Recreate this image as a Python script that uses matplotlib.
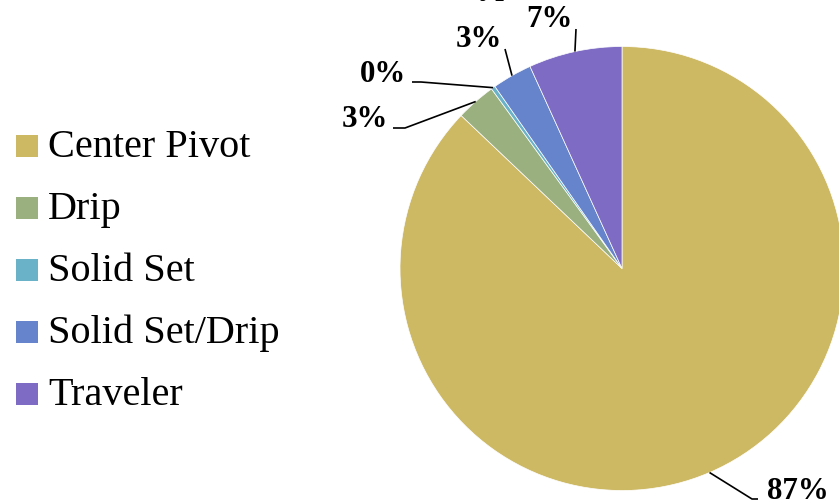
import matplotlib
matplotlib.use("Agg")
import matplotlib.pyplot as plt
from matplotlib.patches import Rectangle
import numpy as np

# Share of irrigated area by system type (percent)
categories = ["Center Pivot", "Drip", "Solid Set", "Solid Set/Drip", "Traveler"]
shares = [87.1, 2.9, 0.3, 2.9, 6.8]
colors = ["#CDB864", "#9BB07F", "#6AB2C8", "#6584CB", "#7E6BC4"]

plt.rcParams["font.family"] = ["Liberation Serif", "DejaVu Serif"]

W, H = 839, 500
fig = plt.figure(figsize=(W / 100, H / 100), dpi=100)
ax = fig.add_axes([0, 0, 1, 1])

# pie of radius 1 centred at the origin; 222 px per data unit
cx_px, cy_px, ppu = 622.0, 268.5, 222.0
wedges, _ = ax.pie(shares, colors=colors, startangle=90, counterclock=False,
                   radius=1, center=(0, 0),
                   wedgeprops=dict(edgecolor="white", linewidth=0.5))
ax.set_aspect("auto")
ax.set_xlim(-cx_px / ppu, (W - cx_px) / ppu)
ax.set_ylim((cy_px - H) / ppu, cy_px / ppu)
ax.axis("off")


def px(x, y):
    """pixel position -> data coordinates"""
    return (x - cx_px) / ppu, (cy_px - y) / ppu


# label layout: text anchor (px), alignment, leader-line bend points (px)
label_layout = [
    dict(text=(767, 499), ha="left", path=[(758, 499), (752, 499)]),
    dict(text=(388, 127), ha="right", path=[(393, 128), (405, 128)]),
    dict(text=(406, 82), ha="right", path=[(412, 82), (421, 82)]),
    dict(text=(478.5, 47), ha="center", path=[(505, 49)]),
    dict(text=(549, 27), ha="center", path=[(576, 29)]),
]

for w, v, lay in zip(wedges, shares, label_layout):
    mid = np.deg2rad((w.theta1 + w.theta2) / 2)
    edge = (np.cos(mid), np.sin(mid))
    pts = [px(*p) for p in lay["path"]] + [edge]
    xs, ys = zip(*pts)
    ax.plot(xs, ys, color="black", lw=1.2, solid_capstyle="butt")
    tx, ty = px(*lay["text"])
    ax.text(tx, ty, f"{v:.0f}%", ha=lay["ha"], va="baseline",
            fontsize=22.3, fontweight="bold", color="black")

# legend
for i, (name, col) in enumerate(zip(categories, colors)):
    bottom = 157 + i * 62.0
    fig.patches.append(Rectangle((16 / W, 1 - bottom / H), 22 / W, 22 / H,
                                 transform=fig.transFigure, facecolor=col,
                                 edgecolor="none"))
    fig.text(48 / W, 1 - bottom / H, name, ha="left", va="baseline",
             fontsize=29, color="black")

# chart title sitting just above the top edge
fig.text(526 / W, 1 + 6 / H, "Method Type", ha="right",
         va="baseline", fontsize=22.3, fontweight="bold", color="black")

fig.savefig("out.png", dpi=100)
